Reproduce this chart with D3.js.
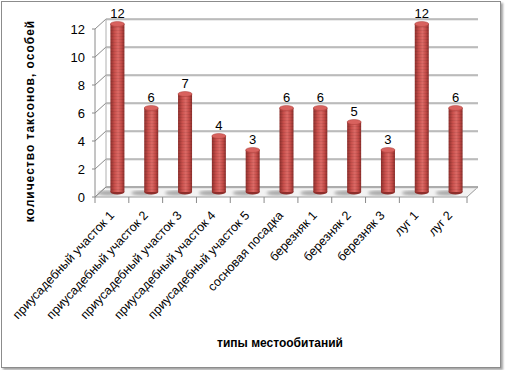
<!DOCTYPE html>
<html>
<head>
<meta charset="utf-8">
<script src="https://cdn.jsdelivr.net/npm/d3@7"></script>
<style>
  body { margin: 0; background: #fff; }
  svg { display: block; font-family: "Liberation Sans", Arial, sans-serif; }
</style>
</head>
<body>
<svg id="chart" width="505" height="370"></svg>
<script>
// habitats and taxa counts
const categories = [
    "приусадебный участок 1",
    "приусадебный участок 2",
    "приусадебный участок 3",
    "приусадебный участок 4",
    "приусадебный участок 5",
    "сосновая посадка",
    "березняк 1",
    "березняк 2",
    "березняк 3",
    "луг 1",
    "луг 2",
];
const values = [12, 6, 7, 4, 3, 6, 6, 5, 3, 12, 6];
const yTicks = [0, 2, 4, 6, 8, 10, 12];
const yTitle = "количество таксонов, особей";
const xTitle = "типы местообитаний";

const svg = d3.select("#chart");
const depth = { dx: 11, dy: -10 };

const x = d3.scaleBand().domain(categories).range([95, 467]);
const y = d3.scaleLinear().domain([0, 12]).range([197, 29]);

const defs = svg.append("defs");
const barGrad = defs.append("linearGradient").attr("id", "barGrad");
[["0%", "#8e2f2c"], ["30%", "#c9504c"], ["55%", "#dc6a66"], ["80%", "#c24a46"], ["100%", "#8a2d2a"]]
    .forEach(([o, c]) => barGrad.append("stop").attr("offset", o).attr("stop-color", c));
const stripes = defs.append("pattern").attr("id", "stripes")
    .attr("width", 4).attr("height", 3).attr("patternUnits", "userSpaceOnUse");
stripes.append("rect").attr("width", 4).attr("height", 1).attr("fill", "rgba(0,0,0,0.07)");
defs.append("filter").attr("id", "blur")
    .append("feGaussianBlur").attr("stdDeviation", 1.5);
defs.append("filter").attr("id", "shadow")
    .append("feDropShadow").attr("dx", 2).attr("dy", 2).attr("stdDeviation", 1)
    .attr("flood-color", "#666").attr("flood-opacity", 0.6);

// outer frame
svg.append("rect")
    .attr("x", 1.5).attr("y", 1.5).attr("width", 499).attr("height", 366)
    .attr("fill", "#fff").attr("stroke", "#8c8c8c").attr("filter", "url(#shadow)");

const [x0, x1] = x.range();
const back = (px, py) => [px + depth.dx, py + depth.dy];

// floor
const floorPts = [[x0, y(0)], [x1, y(0)], back(x1, y(0)), back(x0, y(0))];
svg.append("path")
    .attr("d", d3.line()(floorPts) + "Z")
    .attr("fill", "#f2f2f2").attr("stroke", "#9a9a9a");

// back wall gridlines and side wall diagonals
const grid = svg.append("g");
yTicks.forEach((t) => {
    const [bx, by] = back(x0, y(t));
    grid.append("line")
        .attr("x1", bx).attr("x2", x1 + depth.dx)
        .attr("y1", by + 1).attr("y2", by + 1)
        .attr("stroke", "#d8d8d8");
    grid.append("line")
        .attr("x1", bx).attr("x2", x1 + depth.dx)
        .attr("y1", by).attr("y2", by)
        .attr("stroke", "#8a8a8a");
    grid.append("line")
        .attr("x1", x0).attr("y1", y(t)).attr("x2", bx).attr("y2", by)
        .attr("stroke", "#8a8a8a");
    grid.append("line")
        .attr("x1", x0 - 3).attr("y1", y(t)).attr("x2", x0).attr("y2", y(t))
        .attr("stroke", "#8a8a8a");
});
grid.append("line")
    .attr("x1", x0).attr("x2", x0).attr("y1", y(12)).attr("y2", y(0))
    .attr("stroke", "#8a8a8a");
grid.append("line")
    .attr("x1", x0 + depth.dx).attr("x2", x0 + depth.dx)
    .attr("y1", y(12) + depth.dy).attr("y2", y(0) + depth.dy)
    .attr("stroke", "#b0b0b0");

// y tick labels
svg.append("g")
    .selectAll("text")
    .data(yTicks)
    .join("text")
    .attr("x", x0 - 10)
    .attr("y", (d) => y(d) + 5)
    .attr("text-anchor", "end")
    .attr("font-size", 13)
    .attr("fill", "#000")
    .text((d) => d);

// category ticks along the front edge
svg.append("g")
    .selectAll("line")
    .data(categories.concat(["_end"]))
    .join("line")
    .attr("x1", (d, i) => x0 + i * x.step())
    .attr("x2", (d, i) => x0 + i * x.step())
    .attr("y1", y(0))
    .attr("y2", y(0) + 6)
    .attr("stroke", "#8a8a8a");

const rx = 7, ry = 2.5;
const cx = (d) => x(d) + x.bandwidth() / 2 + depth.dx / 2;
const yb = (v) => y(v) + depth.dy / 2;
const data = categories.map((c, i) => ({ c, v: values[i] }));

// floor shadows
svg.append("g")
    .selectAll("ellipse")
    .data(data)
    .join("ellipse")
    .attr("cx", (d) => cx(d.c) - 9)
    .attr("cy", yb(0) + 1)
    .attr("rx", 11).attr("ry", 2.5)
    .attr("fill", "#a8a8a8")
    .attr("filter", "url(#blur)");

const bars = svg.append("g")
    .selectAll("g")
    .data(data)
    .join("g");

bars.append("ellipse")
    .attr("cx", (d) => cx(d.c)).attr("cy", yb(0))
    .attr("rx", rx).attr("ry", ry)
    .attr("fill", "#8e2f2c");
bars.append("rect")
    .attr("x", (d) => cx(d.c) - rx)
    .attr("y", (d) => yb(d.v))
    .attr("width", rx * 2)
    .attr("height", (d) => yb(0) - yb(d.v))
    .attr("fill", "url(#barGrad)");
bars.append("rect")
    .attr("x", (d) => cx(d.c) - rx)
    .attr("y", (d) => yb(d.v))
    .attr("width", rx * 2)
    .attr("height", (d) => yb(0) - yb(d.v))
    .attr("fill", "url(#stripes)");
bars.append("ellipse")
    .attr("cx", (d) => cx(d.c)).attr("cy", (d) => yb(d.v))
    .attr("rx", rx).attr("ry", ry)
    .attr("fill", "#d8625e").attr("stroke", "#a83c39").attr("stroke-width", 0.5);

// value labels
bars.append("text")
    .attr("x", (d) => cx(d.c))
    .attr("y", (d) => yb(d.v) - 6)
    .attr("text-anchor", "middle")
    .attr("font-size", 13)
    .text((d) => d.v);

// category labels
svg.append("g")
    .selectAll("text")
    .data(categories)
    .join("text")
    .attr("transform", (d) => `translate(${x(d) + x.bandwidth() / 2 + 3},${y(0) + 19}) rotate(-47)`)
    .attr("text-anchor", "end")
    .attr("font-size", 12.5)
    .text((d) => d);

// axis titles
svg.append("text")
    .attr("transform", "translate(34,121) rotate(-90)")
    .attr("text-anchor", "middle")
    .attr("font-size", 12)
    .attr("font-weight", "bold")
    .attr("letter-spacing", 1)
    .text(yTitle);

svg.append("text")
    .attr("x", 280).attr("y", 347)
    .attr("text-anchor", "middle")
    .attr("font-size", 12)
    .attr("font-weight", "bold")
    .text(xTitle);
</script>
</body>
</html>
